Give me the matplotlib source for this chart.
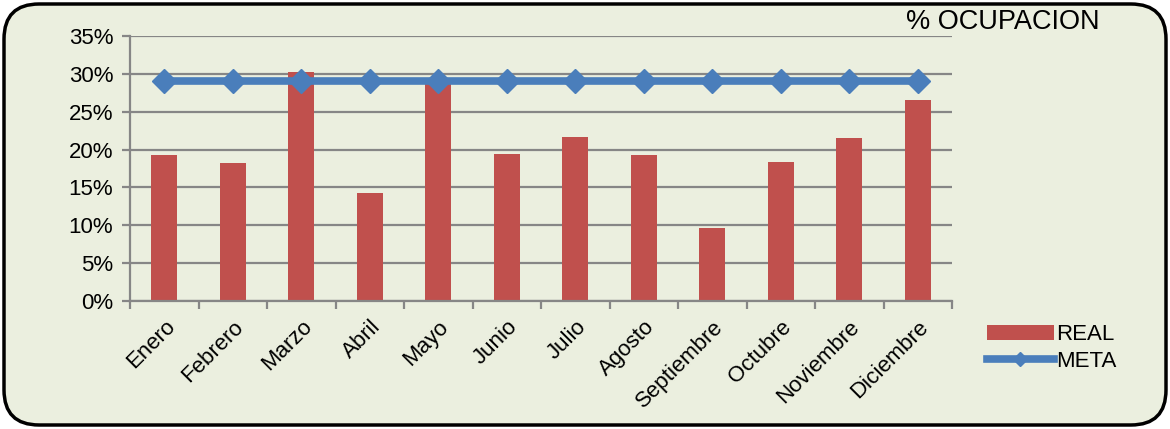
import matplotlib.pyplot as plt
import numpy as np
from matplotlib.patches import FancyBboxPatch
from matplotlib.ticker import FuncFormatter

# datos
meses = ['Enero', 'Febrero', 'Marzo', 'Abril', 'Mayo', 'Junio', 'Julio',
         'Agosto', 'Septiembre', 'Octubre', 'Noviembre', 'Diciembre']
real = [19.3, 18.2, 30.3, 14.2, 28.8, 19.4, 21.7, 19.3, 9.7, 18.4, 21.5, 26.6]
meta = [29, 29, 29, 29, 29, 29, 29, 29, 29, 29, 29, 29]

plt.rcParams['font.family'] = ['Liberation Sans', 'DejaVu Sans']

fondo = '#ebefdf'
gris = '#868686'

fig = plt.figure(figsize=(11.7, 4.29), dpi=100)
fig.patch.set_facecolor('white')

# marco redondeado
marco = FancyBboxPatch((4 / 1170, 4 / 429), 1162 / 1170, 421 / 429,
                       boxstyle='round,pad=0,rounding_size=0.03',
                       transform=fig.transFigure, facecolor=fondo,
                       edgecolor='black', linewidth=2.5,
                       mutation_aspect=1170 / 429, zorder=-10)
fig.patches.append(marco)

ax = fig.add_axes([130 / 1170, 1 - 301 / 429, 822 / 1170, 265 / 429])
ax.set_facecolor('none')

x = np.arange(len(meses))
barras = ax.bar(x, real, width=0.38, color='#c0504d', label='REAL', zorder=2)
linea, = ax.plot(x, meta, color='#4a7ebb', linewidth=5.5, marker='D',
                 markersize=12, label='META', zorder=3)

ax.set_xlim(-0.5, len(meses) - 0.5)
ax.set_ylim(0, 35)
ax.set_yticks(np.arange(0, 36, 5))
ax.yaxis.set_major_formatter(FuncFormatter(lambda v, p: f'{v:.0f}%'))
ax.grid(axis='y', color=gris, linewidth=1.6, zorder=0)
ax.set_axisbelow(True)

# ticks en los bordes de categoria, etiquetas en el centro
ax.set_xticks(np.arange(-0.5, len(meses), 1))
ax.set_xticklabels([])
ax.set_xticks(x, minor=True)
ax.set_xticklabels(meses, minor=True, rotation=45, ha='right',
                   rotation_mode='anchor', fontsize=16)
ax.tick_params(axis='x', which='minor', length=0, pad=11)
ax.tick_params(axis='x', which='major', length=6, width=1.6, color=gris)
ax.tick_params(axis='y', length=6, width=1.6, color=gris, labelsize=16, pad=6)

for s in ['top', 'right']:
    ax.spines[s].set_visible(False)
for s in ['left', 'bottom']:
    ax.spines[s].set_color(gris)
    ax.spines[s].set_linewidth(1.6)

fig.text(1100 / 1170, 1 - 22 / 429, '% OCUPACION', fontsize=19.5,
         ha='right', va='center')

leg = ax.legend([barras, linea], ['REAL', 'META'], loc='center left',
                frameon=False, fontsize=16, handlelength=3.0,
                handletextpad=0.1, labelspacing=0.25, borderaxespad=0,
                markerscale=0.6)
leg.set_bbox_to_anchor((978 / 1170, 1 - 348 / 429), transform=fig.transFigure)

fig.savefig('out.png', dpi=100, facecolor='white')
